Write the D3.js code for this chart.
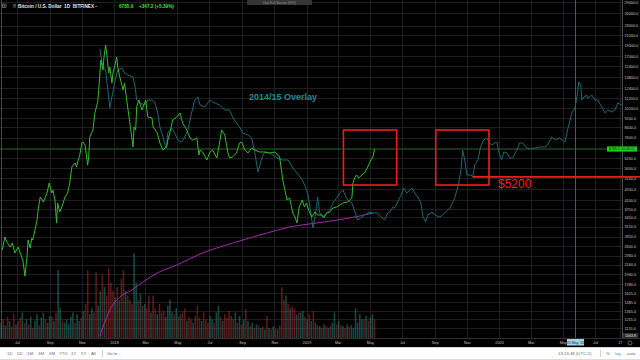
<!DOCTYPE html>
<html><head><meta charset="utf-8">
<script src="https://cdn.jsdelivr.net/npm/d3@7"></script>
<style>html,body{margin:0;padding:0;background:#000;overflow:hidden}svg{display:block}</style>
</head><body><svg id="c" width="640" height="360"></svg>
<script>
// ---------- DATA ----------
const greenSeries = [
["2017-06-03",2496],["2017-06-08",2836],["2017-06-12",2700],["2017-06-18",2570],["2017-06-22",2674],["2017-06-27",2423],
["2017-07-03",2570],["2017-07-12",2261],["2017-07-16",1930],["2017-07-20",2329],["2017-07-22",2754],["2017-07-26",2545],
["2017-07-29",2800],["2017-07-31",2754],["2017-08-04",3043],["2017-08-08",3360],["2017-08-10",3709],["2017-08-14",4219],
["2017-08-18",4095],["2017-08-20",4015],["2017-08-27",4389],["2017-08-31",4847],["2017-09-05",4389],["2017-09-07",4522],
["2017-09-11",4095],["2017-09-14",3262],["2017-09-16",3975],["2017-09-20",3637],["2017-09-24",3821],["2017-09-30",4219],
["2017-10-05",4389],["2017-10-09",4847],["2017-10-13",5679],["2017-10-19",5908],["2017-10-22",5679],["2017-10-24",5966],
["2017-10-28",6394],["2017-11-01",7201],["2017-11-03",7273],["2017-11-07",7060],["2017-11-12",5792],["2017-11-14",6270],
["2017-11-16",7643],["2017-11-22",8191],["2017-11-26",9788],["2017-12-01",10807],["2017-12-03",12172],["2017-12-07",16380],
["2017-12-11",14837],["2017-12-13",16873],["2017-12-16",19000],["2017-12-18",17555],["2017-12-22",14403],["2017-12-24",15282],
["2017-12-28",13044],["2017-12-30",14403],["2018-01-02",15282],["2018-01-06",16873],["2018-01-08",15282],["2018-01-12",13843],
["2018-01-18",12172],["2018-01-21",13044],["2018-01-25",11023],["2018-01-31",8778],["2018-02-06",6922],["2018-02-08",8438],
["2018-02-11",8191],["2018-02-13",10285],["2018-02-17",11023],["2018-02-23",9984],["2018-03-02",11023],["2018-03-06",9316],
["2018-03-14",9224],["2018-03-16",8438],["2018-03-24",7951],["2018-03-29",7201],["2018-04-04",6719],["2018-04-07",6853],
["2018-04-11",6922],["2018-04-13",7418],["2018-04-17",7951],["2018-04-22",9043],["2018-04-30",9316],["2018-05-06",9692],
["2018-05-11",8778],["2018-05-19",8191],["2018-05-25",7567],["2018-05-30",7418],["2018-06-07",7567],["2018-06-11",6394],
["2018-06-13",6719],["2018-06-18",6587],["2018-06-26",6086],["2018-07-02",6587],["2018-07-07",6719],["2018-07-15",6208],
["2018-07-20",7201],["2018-07-24",8191],["2018-07-30",7795],["2018-08-05",6523],["2018-08-08",6208],["2018-08-14",6270],
["2018-08-21",6523],["2018-08-27",7201],["2018-08-31",7273],["2018-09-06",6719],["2018-09-12",6523],["2018-09-19",6853],
["2018-09-25",6719],["2018-10-04",6587],["2018-10-14",6587],["2018-10-23",6523],["2018-11-02",6587],["2018-11-11",6270],
["2018-11-17",4993],["2018-11-21",4522],["2018-11-25",4095],["2018-11-30",4177],["2018-12-06",3601],["2018-12-10",3461],
["2018-12-14",3262],["2018-12-18",3821],["2018-12-24",4095],["2018-12-28",3821],["2019-01-01",3975],["2019-01-05",3709],
["2019-01-11",3461],["2019-01-17",3637],["2019-01-22",3530],["2019-01-30",3530],["2019-02-03",3427],["2019-02-08",3601],
["2019-02-14",3637],["2019-02-20",3784],["2019-02-27",3821],["2019-03-05",3898],["2019-03-11",3975],["2019-03-20",4015],
["2019-03-28",4177],["2019-03-30",4847],["2019-04-03",5143],["2019-04-06",5246],["2019-04-10",5092],["2019-04-16",5246],
["2019-04-21",5351],["2019-04-27",5679],["2019-05-03",6086],["2019-05-07",6270],["2019-05-10",6785.9]
];

const overlaySeries = [
["2017-12-05",18263],["2017-12-11",15282],["2017-12-16",14837],["2017-12-24",10184],["2018-01-02",13044],["2018-01-08",14837],
["2018-01-16",15132],["2018-01-21",14403],["2018-01-27",14120],["2018-02-06",13843],["2018-02-10",12536],["2018-02-13",11023],
["2018-02-19",10700],["2018-02-28",10490],["2018-03-06",11023],["2018-03-14",11023],["2018-03-19",10807],["2018-03-25",9692],
["2018-03-29",8438],["2018-04-04",7643],["2018-04-09",6853],["2018-04-11",7201],["2018-04-13",7951],["2018-04-20",8354],
["2018-04-26",7951],["2018-05-02",7418],["2018-05-09",7273],["2018-05-15",7643],["2018-05-21",8191],["2018-05-28",9692],
["2018-06-03",11023],["2018-06-09",11356],["2018-06-13",10490],["2018-06-22",10285],["2018-07-02",11023],["2018-07-07",10807],
["2018-07-20",10490],["2018-07-30",9984],["2018-08-08",9984],["2018-08-14",9316],["2018-08-21",8778],["2018-08-27",8438],
["2018-09-02",7951],["2018-09-12",7795],["2018-09-19",7567],["2018-09-25",6523],["2018-10-01",5404],["2018-10-09",6270],
["2018-10-14",6587],["2018-10-23",6523],["2018-11-06",6208],["2018-11-17",6086],["2018-11-27",6086],["2018-12-06",5622],
["2018-12-14",5351],["2018-12-24",4993],["2018-12-30",4659],["2019-01-04",4303],["2019-01-11",3360],["2019-01-13",3104],
["2019-01-17",3461],["2019-01-20",3821],["2019-01-22",4219],["2019-01-26",3601],["2019-02-01",3461],["2019-02-08",3601],
["2019-02-14",3709],["2019-02-20",3975],["2019-02-27",4177],["2019-03-05",4389],["2019-03-11",4522],["2019-03-15",4303],
["2019-03-20",4095],["2019-03-28",3975],["2019-04-03",3637],["2019-04-08",3360],["2019-04-16",3461],["2019-04-21",3530],
["2019-05-01",3637],["2019-05-07",3601],["2019-05-16",3601],["2019-05-24",3427],["2019-05-29",3360],["2019-06-04",3601],
["2019-06-08",3637],["2019-06-14",3821],["2019-06-17",3784],["2019-06-23",4015],["2019-07-01",4389],["2019-07-04",4612],
["2019-07-10",4389],["2019-07-20",4612],["2019-07-25",4389],["2019-07-31",4219],["2019-08-06",3975],["2019-08-10",3461],
["2019-08-15",3294],["2019-08-19",3530],["2019-08-27",3637],["2019-09-01",3530],["2019-09-11",3461],["2019-09-20",3601],
["2019-09-30",3784],["2019-10-09",4177],["2019-10-15",4659],["2019-10-21",5512],["2019-10-24",6719],["2019-10-28",6086],
["2019-11-01",5246],["2019-11-09",5246],["2019-11-12",5143],["2019-11-16",5792],["2019-11-22",6086],["2019-11-27",6922],
["2019-12-03",7418],["2019-12-09",7567],["2019-12-13",7273],["2019-12-18",7060],["2019-12-24",7201],["2019-12-28",7273],
["2020-01-01",6523],["2020-01-06",6086],["2020-01-10",6587],["2020-01-16",6523],["2020-01-21",6208],["2020-01-27",6208],
["2020-02-04",6719],["2020-02-09",7201],["2020-02-15",7201],["2020-02-23",6853],["2020-02-28",6786],["2020-03-09",6853],
["2020-03-18",6922],["2020-03-28",6922],["2020-04-02",7060],["2020-04-10",7643],["2020-04-16",7418],["2020-04-25",7567],
["2020-05-05",7273],["2020-05-10",8191],["2020-05-18",9692],["2020-05-24",10184],["2020-05-29",11815],["2020-05-31",13173],
["2020-06-04",12788],["2020-06-06",11023],["2020-06-10",11356],["2020-06-15",11583],["2020-06-17",11244],["2020-06-25",11583],
["2020-07-01",11023],["2020-07-06",11023],["2020-07-14",10285],["2020-07-20",9692],["2020-07-25",9984],["2020-08-02",9788],
["2020-08-08",9984],["2020-08-13",10700],["2020-08-21",10490]
];

const maSeries = [
["2017-12-05",1064],["2017-12-09",1130],["2017-12-24",1378],["2018-01-12",1568],["2018-02-04",1680],["2018-02-25",1819],
["2018-03-24",1988],["2018-04-30",2151],["2018-06-13",2399],["2018-08-14",2674],["2018-10-18",2954],["2018-11-30",3135],
["2019-01-20",3262],["2019-03-24",3427],["2019-05-07",3601]
];

// signed volume (positive = up day / teal, negative = down day / red), one bar every 4 days from volumeStart
const volumeStart = "2017-06-01";
const volumeStepDays = 4;
const volumeValues = [
18,-22,15,-25,20,-14,-28,16,
-20,-24,30,-18,22,-16,25,-12,
20,28,-15,24,30,-22,18,26,
-25,20,-30,80,35,-20,18,22,
16,25,30,-18,28,20,-24,
32,-40,-80,28,35,-30,-78,38,
55,-75,60,-50,-82,-65,-55,48,
-60,45,-70,-80,55,-50,-45,-40,
100,65,-45,52,-38,40,-35,
-50,30,-50,-35,28,-40,-30,-32,
25,38,45,30,-28,35,-25,
28,-30,-35,20,-25,-22,18,-26,
-38,-24,20,-30,-22,-18,26,
22,-18,30,38,-25,20,-28,-24,
-32,-26,-22,30,-18,26,-16,22,
-34,20,-14,18,-12,16,-15,
12,-14,10,-26,12,-10,14,-11,
10,-15,-60,-45,50,-40,35,-38,
-35,28,-30,30,32,-25,22,-28,
20,-32,18,-15,14,-12,16,-14,
12,-14,18,30,-16,20,-15,
14,-12,16,-13,15,12,35,18,
28,22,-22,26,-20,24,28,-22
];

const xTickDates  = ["2017-07-01","2017-09-01","2017-11-01","2018-01-01","2018-03-01","2018-05-01","2018-07-01","2018-09-01","2018-11-01","2019-01-01","2019-03-01","2019-05-01","2019-07-01","2019-09-01","2019-11-01","2020-01-01","2020-03-01","2020-05-01","2020-07-01","2020-08-17"];
const xTickLabels = ["Jul","Sep","Nov","2018","Mar","May","Jul","Sep","Nov","2019","Mar","May","Jul","Sep","Nov","2020","Mar","May","Jul","17"];
const yTickValues = [29000,26000,23000,21000,19000,17000,15400,13800,12400,11200,10200,9200,8400,7600,6200,5600,5100,4550,4100,3750,3450,3150,2850,2600,2360,2160,1960,1780,1625,1485,1365,1255,1155];

const lastPrice = 6785.9;
const headerTitle = "Bitcoin / U.S. Dollar  1D  BITFINEX -";
const headerChange = "+347.2 (+5.39%)";
const overlayTitle = "2014/15 Overlay";
const boxes = [
  {from:"2019-03-12", to:"2019-06-21", hi:8191, lo:4751},
  {from:"2019-09-03", to:"2019-12-13", hi:8191, lo:4751}
];
const support = {from:"2019-11-12", price:5150, label:"$5200"};
const crosshairDate = "2020-05-25", crosshairLabel = "25 May '20", crosshairPrice = 1063.8;
const rangeButtons = ["1D","5D","1M","3M","6M","YTD","1Y","5Y","All"];

// ---------- CHART ----------
const W = 640, H = 360, plotR = 622, plotB = 338;
const FONT = "'Liberation Sans', Arial, sans-serif";
const parse = d3.utcParse("%Y-%m-%d");
const svg = d3.select("#c");

const x = d3.scaleUtc().domain([parse("2017-07-01"), parse("2020-07-01")]).range([17, 595]);
const y = d3.scaleLog().domain([29670, 1044.5]).range([0, plotB]);
const yVol = d3.scaleLinear().domain([0, 100]).range([plotB, plotB - 85]);

svg.append("rect").attr("width", W).attr("height", H).attr("fill", "#000");

const defs = svg.append("defs");
defs.append("clipPath").attr("id", "plot").append("rect").attr("x", 0).attr("y", 0).attr("width", plotR).attr("height", plotB);

const plot = svg.append("g").attr("clip-path", "url(#plot)");

// grid
plot.append("g").selectAll("line").data(yTickValues).join("line")
  .attr("x1", 0).attr("x2", plotR).attr("y1", d => Math.round(y(d)) + 0.5).attr("y2", d => Math.round(y(d)) + 0.5)
  .attr("stroke", "#1f1f1f").attr("stroke-width", 1);
plot.append("g").selectAll("line").data(xTickDates).join("line")
  .attr("y1", 0).attr("y2", plotB).attr("x1", d => Math.round(x(parse(d))) + 0.5).attr("x2", d => Math.round(x(parse(d))) + 0.5)
  .attr("stroke", "#1f1f1f").attr("stroke-width", 1);

// volume
const vStart = parse(volumeStart);
plot.append("g").selectAll("rect").data(volumeValues).join("rect")
  .attr("x", (d, i) => x(d3.utcDay.offset(vStart, i * volumeStepDays)) - 0.8)
  .attr("width", 1.6)
  .attr("y", d => yVol(Math.abs(d)))
  .attr("height", d => plotB - yVol(Math.abs(d)))
  .attr("fill", d => d >= 0 ? "rgba(34,120,112,0.6)" : "rgba(150,44,44,0.6)");

// last price horizontal line
plot.append("line").attr("x1", 0).attr("x2", plotR).attr("y1", y(lastPrice)).attr("y2", y(lastPrice))
  .attr("stroke", "#2a6a24").attr("stroke-width", 1);

const line = d3.line().x(d => x(parse(d[0]))).y(d => y(d[1]));

plot.append("path").datum(maSeries).attr("d", line.curve(d3.curveMonotoneX))
  .attr("fill", "none").attr("stroke", "#a52aa5").attr("stroke-width", 1);
line.curve(d3.curveLinear);
plot.append("path").datum(overlaySeries).attr("d", line)
  .attr("fill", "none").attr("stroke", "#206672").attr("stroke-width", 1);
plot.append("path").datum(greenSeries).attr("d", line)
  .attr("fill", "none").attr("stroke", "#33bb2c").attr("stroke-width", 1);

// crosshair vertical
const cx = Math.round(x(parse(crosshairDate))) + 0.5;
svg.append("line").attr("x1", cx).attr("x2", cx).attr("y1", 0).attr("y2", plotB)
  .attr("stroke", "#435a66").attr("stroke-width", 1);

// overlay title
svg.append("text").attr("x", 283).attr("y", 100).attr("text-anchor", "middle")
  .attr("font-family", FONT).attr("font-weight", "bold").attr("font-size", 9)
  .attr("fill", "#1f8b95").text(overlayTitle);

// red annotations
svg.append("g").selectAll("rect").data(boxes).join("rect")
  .attr("x", d => x(parse(d.from))).attr("y", d => y(d.hi))
  .attr("width", d => x(parse(d.to)) - x(parse(d.from)))
  .attr("height", d => y(d.lo) - y(d.hi))
  .attr("fill", "none").attr("stroke", "#f01c1c").attr("stroke-width", 1.6);
svg.append("line").attr("x1", x(parse(support.from))).attr("x2", W)
  .attr("y1", y(support.price)).attr("y2", y(support.price))
  .attr("stroke", "#f01c1c").attr("stroke-width", 1.6);
svg.append("text").attr("x", x(parse(boxes[1].to)) + 9).attr("y", y(support.price) + 11.5)
  .attr("font-family", FONT).attr("font-size", 12).attr("fill", "#ee2222").text(support.label);

// right axis
svg.append("rect").attr("x", plotR).attr("y", 0).attr("width", W - plotR).attr("height", plotB).attr("fill", "#000");
svg.append("line").attr("x1", plotR + 0.5).attr("x2", plotR + 0.5).attr("y1", 0).attr("y2", plotB + 9)
  .attr("stroke", "#4a4a4a");
const yAxis = d3.axisRight(y).tickValues(yTickValues).tickFormat(d => d.toFixed(1)).tickSize(0).tickPadding(2.5);
const ga = svg.append("g").attr("transform", `translate(${plotR},0)`).call(yAxis);
ga.select(".domain").remove();
ga.selectAll("text").attr("font-family", FONT).attr("font-size", 3.8).attr("fill", "#c4c4c4");

// red support line over axis
svg.append("line").attr("x1", plotR).attr("x2", W).attr("y1", y(support.price)).attr("y2", y(support.price))
  .attr("stroke", "#f01c1c").attr("stroke-width", 1.6);

// last price label
const ly = y(lastPrice);
svg.append("rect").attr("x", 607).attr("y", ly - 2.6).attr("width", 30).attr("height", 5.2).attr("fill", "#21cc21");
svg.append("text").attr("x", 609).attr("y", ly + 1.3).attr("font-family", FONT).attr("font-size", 3.6)
  .attr("fill", "#063806").text(lastPrice.toFixed(1) + "  10:46:11");

// crosshair price label
const cpy = y(crosshairPrice);
svg.append("rect").attr("x", plotR + 1).attr("y", cpy - 2.4).attr("width", 15).attr("height", 4.8).attr("fill", "#2b2b2b").attr("stroke", "#666").attr("stroke-width", 0.4);
svg.append("text").attr("x", plotR + 3).attr("y", cpy + 1.3).attr("font-family", FONT).attr("font-size", 3.6)
  .attr("fill", "#e8e8e8").text(crosshairPrice.toFixed(1));

// x axis strip
svg.append("rect").attr("x", 0).attr("y", plotB).attr("width", W).attr("height", 9).attr("fill", "#000");
svg.append("line").attr("x1", 0).attr("x2", W).attr("y1", plotB + 0.5).attr("y2", plotB + 0.5).attr("stroke", "#2e2e2e");
const xAxis = d3.axisBottom(x).tickValues(xTickDates.map(parse)).tickFormat((d, i) => xTickLabels[i]).tickSize(0).tickPadding(3);
const gx = svg.append("g").attr("transform", `translate(0,${plotB})`).call(xAxis);
gx.select(".domain").remove();
gx.selectAll("text").attr("font-family", FONT).attr("font-size", 3.8).attr("fill", "#c4c4c4");
// crosshair date label
svg.append("rect").attr("x", cx - 8.5).attr("y", plotB + 1).attr("width", 17).attr("height", 6.5).attr("fill", "#9fd6e6");
svg.append("text").attr("x", cx).attr("y", plotB + 5.6).attr("text-anchor", "middle").attr("font-family", FONT)
  .attr("font-size", 3.6).attr("fill", "#0c2a36").text(crosshairLabel);
// settings circle at the axis corner
svg.append("circle").attr("cx", 630).attr("cy", 343).attr("r", 2).attr("fill", "none").attr("stroke", "#bbb").attr("stroke-width", 0.5);

// left border
svg.append("line").attr("x1", 1.5).attr("x2", 1.5).attr("y1", 0).attr("y2", plotB).attr("stroke", "#5a5a5a").attr("stroke-width", 0.8);

// header
const hdr = svg.append("g").attr("font-family", FONT);
hdr.append("rect").attr("x", 2.5).attr("y", 4).attr("width", 3.6).attr("height", 3.6).attr("fill", "none").attr("stroke", "#aaa").attr("stroke-width", 0.5);
hdr.append("line").attr("x1", 4.3).attr("x2", 4.3).attr("y1", 4.6).attr("y2", 7).attr("stroke", "#aaa").attr("stroke-width", 0.5);
hdr.append("line").attr("x1", 3.1).attr("x2", 5.5).attr("y1", 5.8).attr("y2", 5.8).attr("stroke", "#aaa").attr("stroke-width", 0.5);
[4.6, 5.8, 7].forEach(yy => hdr.append("line").attr("x1", 13).attr("x2", 16).attr("y1", yy).attr("y2", yy).attr("stroke", "#aaa").attr("stroke-width", 0.5));
hdr.append("text").attr("x", 18).attr("y", 7.6).attr("font-size", 4.7).attr("font-weight", "bold").attr("fill", "#e6e6e6")
  .attr("xml:space", "preserve").text(headerTitle);
hdr.append("text").attr("x", 119).attr("y", 7.6).attr("font-size", 4.7).attr("font-weight", "bold").attr("fill", "#3ee03e")
  .text(lastPrice.toFixed(1));
hdr.append("text").attr("x", 139).attr("y", 7.6).attr("font-size", 4.7).attr("font-weight", "bold").attr("fill", "#3ee03e")
  .text(headerChange);

// top centre hint box
svg.append("rect").attr("x", 247).attr("y", 0).attr("width", 65).attr("height", 5).attr("rx", 0.8).attr("fill", "#353535");
svg.append("text").attr("x", 279.5).attr("y", 3.6).attr("text-anchor", "middle").attr("font-family", FONT).attr("font-size", 3.4)
  .attr("fill", "#9a9a9a").text("Use Full Screen (F11)");

// bottom toolbar
const tb = svg.append("g").attr("font-family", FONT);
tb.append("rect").attr("x", 0).attr("y", 347).attr("width", W).attr("height", 13).attr("fill", "#ffffff");
tb.append("line").attr("x1", 0).attr("x2", W).attr("y1", 347.5).attr("y2", 347.5).attr("stroke", "#d6d6d6");
tb.append("line").attr("x1", 0).attr("x2", W).attr("y1", 359.5).attr("y2", 359.5).attr("stroke", "#dcdcdc");
const btnX = [7, 17, 27, 38, 49, 59, 71, 81, 91];
tb.selectAll("text.btn").data(rangeButtons).join("text").attr("class", "btn")
  .attr("x", (d, i) => btnX[i]).attr("y", 355).attr("font-size", 4.3).attr("fill", "#6a6a6a").text(d => d);
tb.append("line").attr("x1", 102.5).attr("x2", 102.5).attr("y1", 350).attr("y2", 357).attr("stroke", "#d0d0d0");
tb.append("text").attr("x", 107).attr("y", 355).attr("font-size", 4.3).attr("fill", "#6a6a6a").text("Go to...");
tb.append("text").attr("x", 558).attr("y", 355).attr("font-size", 4.3).attr("fill", "#6a6a6a").text("13:13:48 (UTC-2)");
tb.append("line").attr("x1", 600.5).attr("x2", 600.5).attr("y1", 350).attr("y2", 357).attr("stroke", "#d0d0d0");
tb.append("text").attr("x", 606).attr("y", 355).attr("font-size", 4.3).attr("fill", "#6a6a6a").text("%");
tb.append("text").attr("x", 615).attr("y", 355).attr("font-size", 4.3).attr("fill", "#2f8fe8").text("log");
tb.append("text").attr("x", 627).attr("y", 355).attr("font-size", 4.3).attr("fill", "#6a6a6a").text("auto");
</script>
</body></html>
